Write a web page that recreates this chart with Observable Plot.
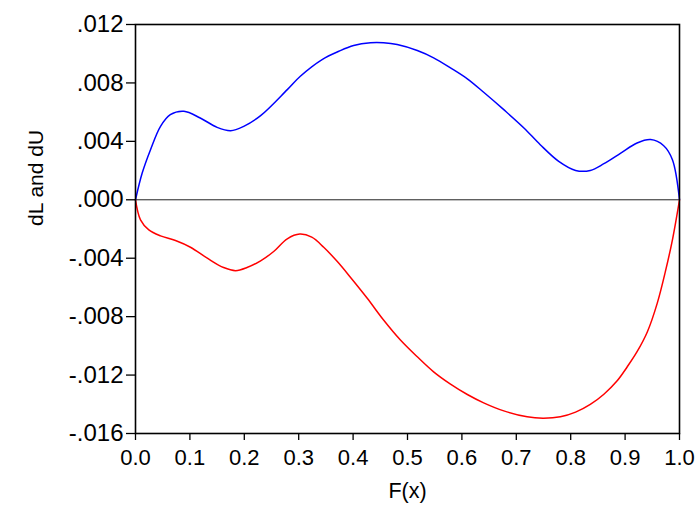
<!DOCTYPE html>
<html>
<head>
<meta charset="utf-8">
<script src="https://cdn.jsdelivr.net/npm/d3@7"></script>
<script src="https://cdn.jsdelivr.net/npm/@observablehq/plot@0.6"></script>
<style>
  html, body { margin: 0; padding: 0; background: white; }
  #chart { width: 699px; height: 515px; }
</style>
</head>
<body>
<div id="chart"></div>
<script>
// Upper bound difference dU
const dUx = [0, 0.0123, 0.0276, 0.046, 0.064, 0.089, 0.119, 0.150, 0.175, 0.199, 0.230, 0.279, 0.303, 0.343, 0.374, 0.401, 0.432, 0.456, 0.481, 0.518, 0.548, 0.579, 0.610, 0.640, 0.677, 0.714, 0.744, 0.778, 0.809, 0.836, 0.861, 0.892, 0.922, 0.947, 0.971, 0.987, 1.0];
const dUy = [0, 0.00183, 0.00343, 0.00503, 0.00583, 0.00606, 0.0056, 0.00496, 0.00473, 0.00503, 0.00576, 0.00754, 0.00846, 0.0096, 0.01017, 0.01056, 0.01075, 0.01075, 0.01063, 0.01022, 0.00972, 0.00903, 0.00828, 0.00736, 0.00617, 0.00492, 0.00377, 0.00263, 0.00201, 0.00201, 0.00247, 0.0032, 0.00389, 0.00412, 0.0037, 0.00274, 0];

// Lower bound difference dL
const dLx = [0, 0.0092, 0.0245, 0.046, 0.0735, 0.101, 0.132, 0.162, 0.184, 0.205, 0.230, 0.254, 0.279, 0.302, 0.324, 0.346, 0.371, 0.395, 0.426, 0.456, 0.487, 0.518, 0.548, 0.579, 0.610, 0.640, 0.677, 0.720, 0.749, 0.781, 0.809, 0.836, 0.861, 0.885, 0.904, 0.922, 0.941, 0.959, 0.974, 0.987, 1.0];
const dLy = [0, -0.00137, -0.00206, -0.00247, -0.00279, -0.00325, -0.004, -0.00464, -0.00485, -0.00464, -0.00418, -0.00354, -0.00267, -0.00235, -0.00256, -0.00325, -0.00423, -0.0053, -0.00674, -0.00823, -0.0096, -0.01075, -0.01178, -0.01262, -0.01333, -0.0139, -0.01445, -0.01486, -0.01495, -0.01486, -0.01454, -0.01401, -0.01331, -0.01241, -0.01143, -0.0104, -0.00903, -0.00709, -0.00492, -0.00274, 0];

const yTicks = [-0.016, -0.012, -0.008, -0.004, 0, 0.004, 0.008, 0.012];
const xTicks = [0, 0.1, 0.2, 0.3, 0.4, 0.5, 0.6, 0.7, 0.8, 0.9, 1.0];
const xLabel = ["F(x)"];
const yLabel = ["dL and dU"];

const upper = dUx.map((x, i) => ({x, y: dUy[i]}));
const lower = dLx.map((x, i) => ({x, y: dLy[i]}));

const yFmt = d => d3.format(".3f")(d).replace("\u2212", "-").replace("0.", ".");
const xFmt = d3.format(".1f");

const chart = Plot.plot({
  width: 699,
  height: 515,
  marginLeft: 135,
  marginRight: 20,
  marginTop: 24,
  marginBottom: 82,
  x: {domain: [0, 1]},
  y: {domain: [-0.016, 0.012]},
  style: {fontFamily: "'Liberation Sans', Arial, sans-serif", fontSize: "20px", color: "black", background: "white"},
  marks: [
    Plot.ruleY([0], {stroke: "#222", strokeWidth: 1}),
    Plot.line(upper, {x: "x", y: "y", stroke: "#0000ff", strokeWidth: 1.5, curve: "catmull-rom"}),
    Plot.line(lower, {x: "x", y: "y", stroke: "#ff0000", strokeWidth: 1.5, curve: "catmull-rom"}),
    Plot.frame({stroke: "black", strokeWidth: 1.6}),
    Plot.axisY({ticks: yTicks, tickFormat: yFmt, tickSize: 9, tickPadding: 3, label: null, strokeWidth: 1.3, fontSize: 24}),
    Plot.axisX({ticks: xTicks, tickFormat: xFmt, tickSize: 7, tickPadding: 9, label: null, strokeWidth: 1.3, fontSize: 22}),
    Plot.text(yLabel, {text: d => d, frameAnchor: "left", rotate: -90, dx: -99, dy: -3, fontSize: 21, fill: "black"}),
    Plot.text(xLabel, {text: d => d, frameAnchor: "bottom", dy: 64, fontSize: 21.5, fill: "black"})
  ]
});
document.getElementById("chart").appendChild(chart);
</script>
</body>
</html>
